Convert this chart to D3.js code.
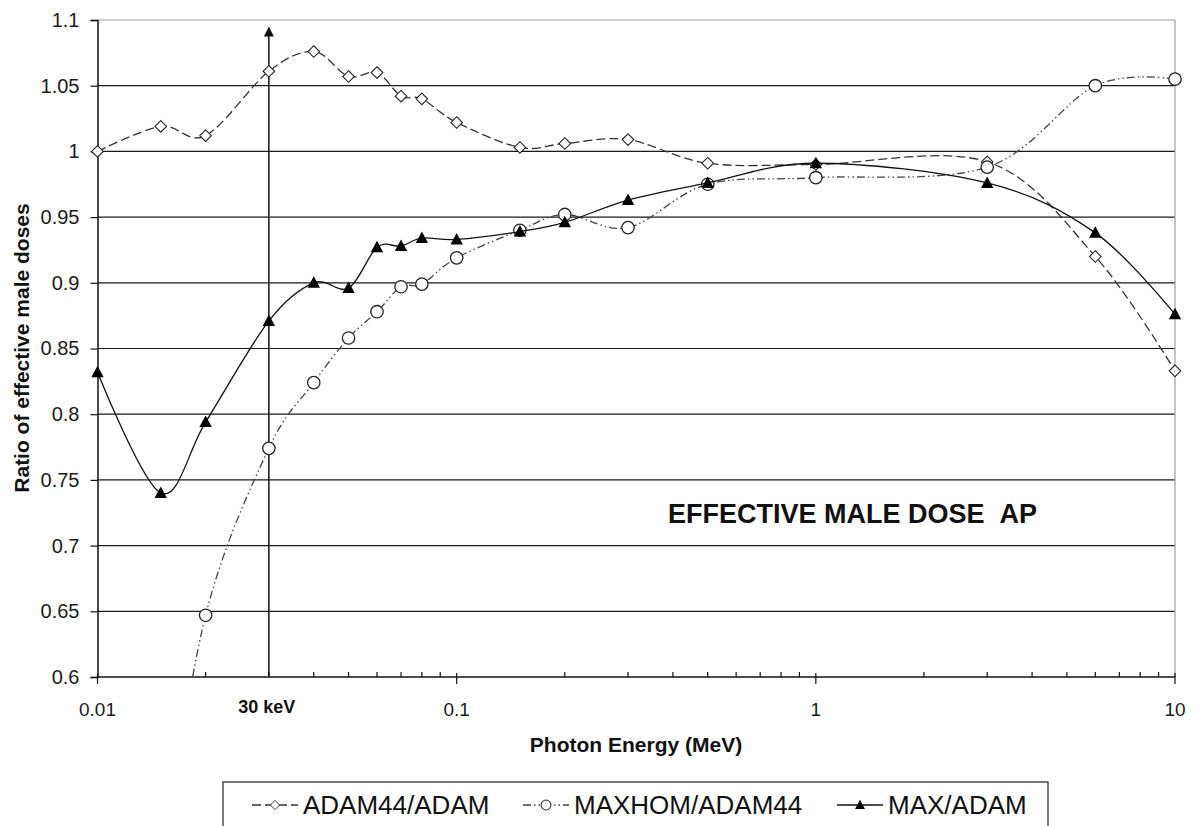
<!DOCTYPE html>
<html>
<head>
<meta charset="utf-8">
<script src="https://cdn.jsdelivr.net/npm/d3@7"></script>
<style>
  body { margin: 0; background: #fff; }
  svg { display: block; font-family: "Liberation Sans", Arial, sans-serif; }
</style>
</head>
<body>
<div id="chart"></div>
<script>
// Effective male dose ratios, AP irradiation, vs photon energy (MeV)
const energy = [0.01, 0.015, 0.02, 0.03, 0.04, 0.05, 0.06, 0.07, 0.08, 0.1,
                0.15, 0.2, 0.3, 0.5, 1, 3, 6, 10];

const adam44Adam  = [1.000, 1.019, 1.012, 1.061, 1.076, 1.057, 1.060, 1.042, 1.040, 1.022,
                     1.003, 1.006, 1.009, 0.991, 0.990, 0.992, 0.920, 0.833];
const maxhomAdam44 = [null, 0.45, 0.647, 0.774, 0.824, 0.858, 0.878, 0.897, 0.899, 0.919,
                     0.940, 0.952, 0.942, 0.975, 0.980, 0.988, 1.050, 1.055];
const maxAdam     = [0.832, 0.740, 0.794, 0.871, 0.900, 0.896, 0.927, 0.928, 0.934, 0.933,
                     0.939, 0.946, 0.963, 0.976, 0.991, 0.976, 0.938, 0.876];

const seriesNames = ["ADAM44/ADAM", "MAXHOM/ADAM44", "MAX/ADAM"];
const seriesValues = [adam44Adam, maxhomAdam44, maxAdam];

const yTicks = [0.6, 0.65, 0.7, 0.75, 0.8, 0.85, 0.9, 0.95, 1, 1.05, 1.1];
const xTickLabels = [0.01, 0.1, 1, 10];
const markerEnergy = 0.03;      // the "30 keV" arrow
const markerLabel = "30 keV";
const arrowTop = 1.095;

const width = 1198, height = 826;
const margin = { top: 20, right: 23, bottom: 149, left: 97.5 };
const plotRight = width - margin.right;
const plotBottom = height - margin.bottom;

// line/marker look for each series (same order as seriesNames)
const styles = [
  { dash: "9,4",               stroke: "#333", width: 1.3, marker: "diamond" },
  { dash: "8,3,1.5,3,1.5,3",   stroke: "#444", width: 1.3, marker: "circle" },
  { dash: null,                stroke: "#111", width: 1.3, marker: "triangle" }
];

const x = d3.scaleLog().domain([0.01, 10]).range([margin.left, plotRight]);
const y = d3.scaleLinear().domain([0.6, 1.1]).range([plotBottom, margin.top]);

const svg = d3.select("#chart").append("svg")
  .attr("width", width)
  .attr("height", height);

svg.append("defs").append("clipPath")
  .attr("id", "plot-clip")
  .append("rect")
  .attr("x", margin.left).attr("y", margin.top)
  .attr("width", plotRight - margin.left)
  .attr("height", plotBottom - margin.top);

// GRIDLINES
svg.append("g")
  .selectAll("line")
  .data(yTicks.filter(d => d > 0.6))
  .join("line")
  .attr("x1", margin.left).attr("x2", plotRight)
  .attr("y1", d => y(d)).attr("y2", d => y(d))
  .attr("stroke", d => d === 1.1 ? "#a0a0a0" : "#1a1a1a")
  .attr("stroke-width", 1.2);

// right frame
svg.append("line")
  .attr("x1", plotRight).attr("x2", plotRight)
  .attr("y1", margin.top).attr("y2", plotBottom)
  .attr("stroke", "#a0a0a0").attr("stroke-width", 1.2);

// Y AXIS
const yAxis = svg.append("g")
  .attr("transform", `translate(${margin.left},0)`)
  .call(d3.axisLeft(y).tickValues(yTicks).tickSize(7).tickPadding(11)
    .tickFormat(d => String(+d.toFixed(2))));
yAxis.select(".domain").attr("stroke", "#111").attr("stroke-width", 1.5);
yAxis.selectAll(".tick line").attr("stroke", "#111").attr("stroke-width", 1.2);
yAxis.selectAll("text")
  .style("font-size", "20px")
  .style("font-family", "'Liberation Sans', Arial, sans-serif")
  .attr("fill", "#1a1a1a");

// X AXIS — line, minor ticks inside, major ticks crossing
const xAxis = svg.append("g");
xAxis.append("line")
  .attr("x1", margin.left).attr("x2", plotRight)
  .attr("y1", plotBottom).attr("y2", plotBottom)
  .attr("stroke", "#111").attr("stroke-width", 1.5);

x.ticks().forEach(t => {
  const major = Math.abs(Math.log10(t) - Math.round(Math.log10(t))) < 1e-9;
  xAxis.append("line")
    .attr("x1", x(t)).attr("x2", x(t))
    .attr("y1", major ? plotBottom - 4 : plotBottom - 5)
    .attr("y2", major ? plotBottom + 7 : plotBottom)
    .attr("stroke", "#111").attr("stroke-width", 1.2);
});

xAxis.selectAll(".xlab")
  .data(xTickLabels)
  .join("text")
  .attr("class", "xlab")
  .attr("x", d => x(d))
  .attr("y", plotBottom + 39)
  .attr("text-anchor", "middle")
  .style("font-size", "19px")
  .attr("fill", "#1a1a1a")
  .text(d => String(d));

xAxis.append("text")
  .attr("x", x(markerEnergy) - 2)
  .attr("y", plotBottom + 36)
  .attr("text-anchor", "middle")
  .style("font-size", "18px")
  .style("font-weight", "bold")
  .attr("fill", "#111")
  .text(markerLabel);

// 30 keV arrow
svg.append("line")
  .attr("x1", x(markerEnergy)).attr("x2", x(markerEnergy))
  .attr("y1", plotBottom).attr("y2", y(arrowTop) + 6)
  .attr("stroke", "#111").attr("stroke-width", 1.5);
svg.append("path")
  .attr("transform", `translate(${x(markerEnergy)},${y(arrowTop)})`)
  .attr("d", "M0,0L5,10L-5,10Z")
  .attr("fill", "#111");

// AXIS TITLES
svg.append("text")
  .attr("x", 636).attr("y", plotBottom + 75)
  .attr("text-anchor", "middle")
  .style("font-size", "21px")
  .style("font-weight", "bold")
  .attr("fill", "#111")
  .text("Photon Energy (MeV)");

svg.append("text")
  .attr("transform", `translate(29,${348}) rotate(-90)`)
  .attr("text-anchor", "middle")
  .style("font-size", "21px")
  .style("font-weight", "bold")
  .attr("fill", "#111")
  .text("Ratio of effective male doses");

// CHART LABEL inside plot
svg.append("text")
  .attr("x", 668).attr("y", 523)
  .attr("xml:space", "preserve")
  .style("font-size", "27px")
  .style("font-weight", "bold")
  .style("white-space", "pre")
  .attr("fill", "#111")
  .text("EFFECTIVE MALE DOSE\u00a0\u00a0AP");

// marker drawing
function drawMarker(g, kind) {
  if (kind === "diamond") {
    g.append("path").attr("d", "M0,-5.8L5.8,0L0,5.8L-5.8,0Z")
      .attr("fill", "#fff").attr("stroke", "#222").attr("stroke-width", 1.1);
  } else if (kind === "circle") {
    g.append("circle").attr("r", 6.2)
      .attr("fill", "#fff").attr("stroke", "#222").attr("stroke-width", 1.3);
  } else {
    g.append("path").attr("d", "M0,-6.5L6.2,5L-6.2,5Z")
      .attr("fill", "#000");
  }
}

// SERIES — lines clipped to the plot area, markers only where in range
const line = d3.line()
  .defined(d => d.v != null)
  .x(d => x(d.e))
  .y(d => y(d.v))
  .curve(d3.curveCardinal.tension(0));

const lineG = svg.append("g").attr("clip-path", "url(#plot-clip)");
const markG = svg.append("g");

seriesValues.forEach((vals, i) => {
  const pts = energy.map((e, j) => ({ e, v: vals[j] }));
  const st = styles[i];

  const grp = svg.append("g");
  grp.append("path")
    .datum(pts)
    .attr("clip-path", "url(#plot-clip)")
    .attr("d", line)
    .attr("fill", "none")
    .attr("stroke", st.stroke)
    .attr("stroke-width", st.width)
    .attr("stroke-dasharray", st.dash);

  pts.filter(d => d.v != null && d.v >= y.domain()[0]).forEach(d => {
    const g = grp.append("g").attr("transform", `translate(${x(d.e)},${y(d.v)})`);
    drawMarker(g, st.marker);
  });
});

// LEGEND
const legend = svg.append("g");
legend.append("rect")
  .attr("x", 223).attr("y", 782)
  .attr("width", 825).attr("height", 70)
  .attr("fill", "#fff")
  .attr("stroke", "#333").attr("stroke-width", 1.3);

const legendX = [252, 523, 837];
seriesNames.forEach((name, i) => {
  const st = styles[i];
  const row = legend.append("g").attr("transform", `translate(${legendX[i]},805)`);
  row.append("line")
    .attr("x1", 0).attr("x2", 46)
    .attr("y1", 0).attr("y2", 0)
    .attr("stroke", st.stroke)
    .attr("stroke-width", st.width)
    .attr("stroke-dasharray", st.dash);
  const m = row.append("g").attr("transform", "translate(23,0) scale(0.8)");
  drawMarker(m, st.marker);
  row.append("text")
    .attr("x", 51).attr("y", 9)
    .style("font-size", "26px")
    .attr("fill", "#111")
    .text(name);
});
</script>
</body>
</html>
